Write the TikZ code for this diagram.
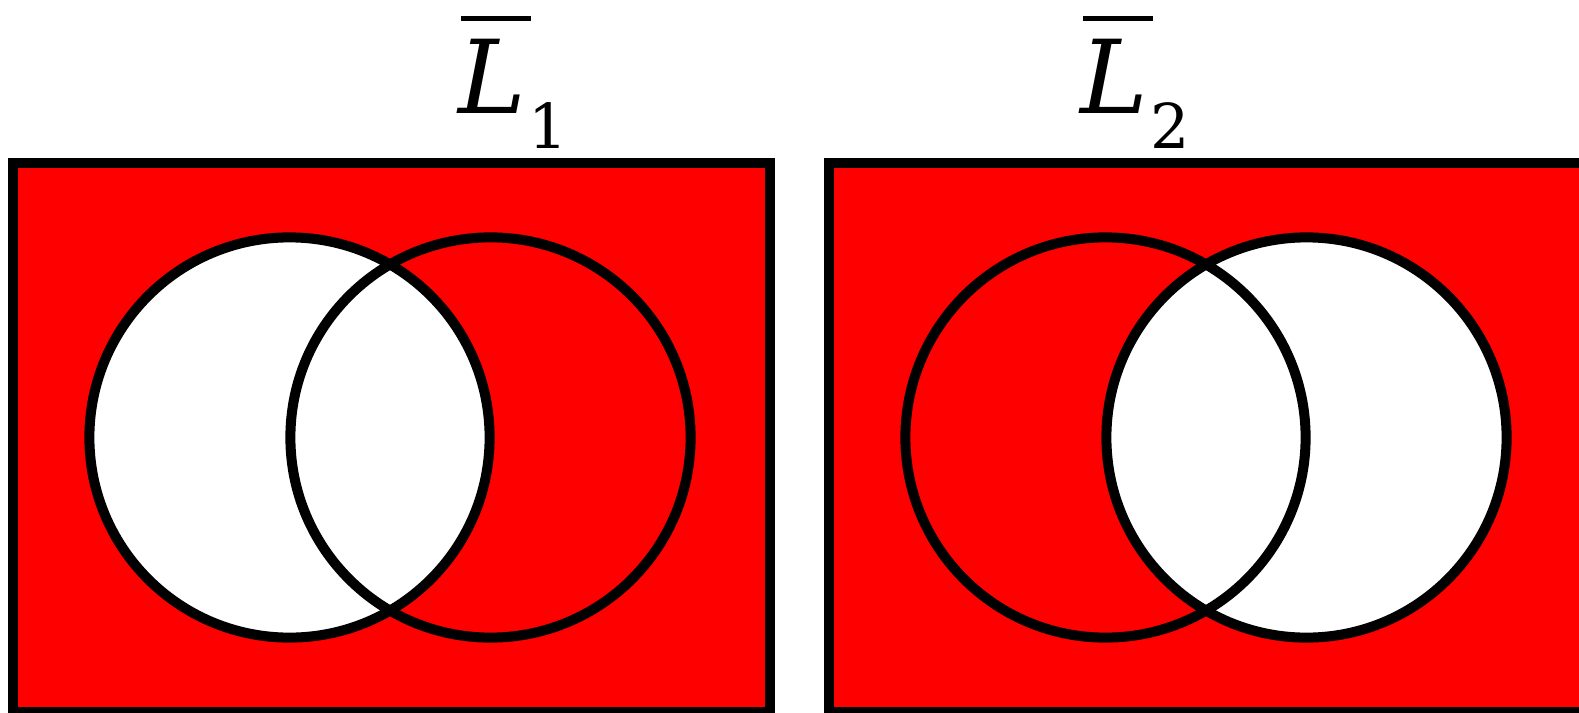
\documentclass[tikz,border=0pt]{standalone}
\usepackage{fontspec}
\setmainfont{DejaVu Serif}
\usepackage{xcolor}
\usepackage{tikz}
\usetikzlibrary{positioning}
\definecolor{setred}{HTML}{FF0000}
\newcommand{\compl}[1]{\rlap{\hspace{0.8pt}\rule[26.2pt]{19.9pt}{1.4pt}}\textit{L}\kern0.8pt\raisebox{-10.2pt}{\fontsize{17.6}{20}\selectfont #1}}

\begin{document}
\begin{tikzpicture}[x=0.01cm,y=-0.01cm,line width=0.1cm]
  \useasboundingbox (0,0) rectangle (1579,712);
  \clip (0,0) rectangle (1579,712);
  \foreach \ox/\wx/\lx/\k in {0/289.5/453/1, 816/1306.5/1075/2}{
    \fill[setred] (\ox+13,163) rectangle (\ox+770,712);
    \fill[white] (\wx,437.5) circle[radius=2cm];
    \draw (\ox+289.5,437.5) circle[radius=2cm];
    \draw (\ox+490.5,437.5) circle[radius=2cm];
    \draw (\ox+13,163) rectangle (\ox+770,712);
    \node[font=\fontsize{29}{35}\selectfont,inner sep=0pt,anchor=base west] (lbl\k) at (\lx,113)
      {\compl{\k}};}
\end{tikzpicture}
\end{document}
